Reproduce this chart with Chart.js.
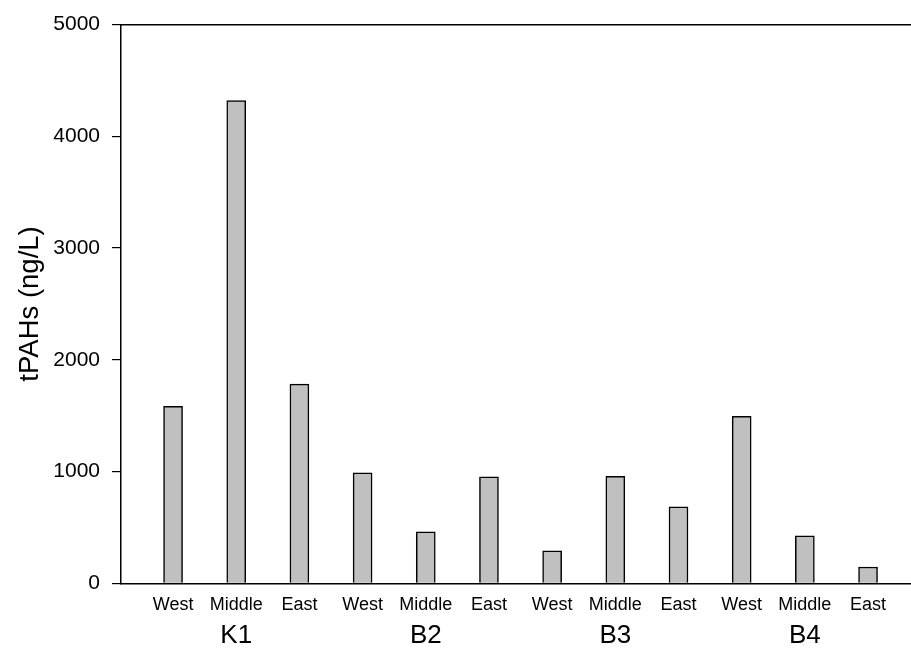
<!DOCTYPE html>
<html>
<head>
<meta charset="utf-8">
<script src="https://cdn.jsdelivr.net/npm/chart.js@4/dist/chart.umd.min.js"></script>
<style>
  html, body { margin: 0; padding: 0; background: #fff; }
  #wrap { width: 911px; height: 650px; }
</style>
</head>
<body>
<div id="wrap"><canvas id="c" width="911" height="650"></canvas></div>
<script>
// ---- data ----
const sites = ["K1", "B2", "B3", "B4"];
const positions = ["West", "Middle", "East"];
const subLabels = ["West", "Middle", "East", "West", "Middle", "East", "West", "Middle", "East", "West", "Middle", "East"];
const groupLabels = ["K1", "B2", "B3", "B4"];
const tpahs = [1583, 4321, 1782, 988, 461, 952, 291, 958, 684, 1494, 425, 146];
const yTicks = [0, 1000, 2000, 3000, 4000, 5000];

const FONT = "'Liberation Sans', Arial, Helvetica, sans-serif";
Chart.defaults.color = '#000';
Chart.defaults.font.family = FONT;

const idx = tpahs.map((_, i) => i + 1);
const groupIdx = groupLabels.map((_, g) => g * 3 + 2);
const X_MIN = 0.176, X_MAX = 12.68;

new Chart(document.getElementById('c'), {
  type: 'bar',
  data: {
    datasets: [{
      data: tpahs.map((v, i) => ({ x: idx[i], y: v })),
      backgroundColor: '#c0c0c0',
      borderColor: '#000',
      borderWidth: 1.5,
      borderSkipped: 'bottom',
      barThickness: 19,
      xAxisID: 'x',
      yAxisID: 'y'
    }]
  },
  options: {
    responsive: false,
    animation: false,
    layout: { padding: { top: 23, left: 0, right: 0, bottom: 0 } },
    plugins: { legend: { display: false }, tooltip: { enabled: false } },
    scales: {
      x: {
        type: 'linear', position: 'bottom', min: X_MIN, max: X_MAX, offset: false, weight: 0,
        grid: { display: false, drawTicks: false, offset: false },
        border: { display: true, color: '#000', width: 1.5 },
        afterBuildTicks: s => { s.ticks = idx.map(v => ({ value: v })); },
        ticks: {
          autoSkip: false, maxRotation: 0, padding: 11,
          font: { size: 18, family: FONT },
          callback: v => subLabels[Math.round(v) - 1]
        },
        afterFit: s => { s.height = 34; }
      },
      x2: {
        type: 'linear', position: 'bottom', min: X_MIN, max: X_MAX, offset: false, weight: 1,
        grid: { display: false, drawTicks: false },
        border: { display: false },
        afterBuildTicks: s => { s.ticks = groupIdx.map(v => ({ value: v })); },
        ticks: {
          autoSkip: false, maxRotation: 0, padding: 3,
          font: { size: 26, family: FONT },
          callback: v => groupLabels[(Math.round(v) - 2) / 3]
        },
        afterFit: s => { s.height = 32.7; }
      },
      xTop: {
        type: 'linear', position: 'top', min: X_MIN, max: X_MAX,
        grid: { display: false, drawTicks: false },
        border: { display: true, color: '#000', width: 1.5 },
        ticks: { display: false },
        afterFit: s => { s.height = 0; }
      },
      y: {
        type: 'linear', position: 'left', min: 0, max: 5000,
        grid: { display: true, drawOnChartArea: false, drawTicks: true, tickLength: 9, color: '#000', lineWidth: 1.2 },
        border: { display: true, color: '#000', width: 1.5 },
        afterBuildTicks: s => { s.ticks = yTicks.map(v => ({ value: v })); },
        ticks: { padding: 12, font: { size: 21, family: FONT }, callback: v => String(v) },
        title: { display: true, text: 'tPAHs (ng/L)', font: { size: 27.5, family: FONT }, padding: { top: 13.5, bottom: 0 } },
        afterFit: s => { s.width = 121; }
      }
    }
  }
});
</script>
</body>
</html>
